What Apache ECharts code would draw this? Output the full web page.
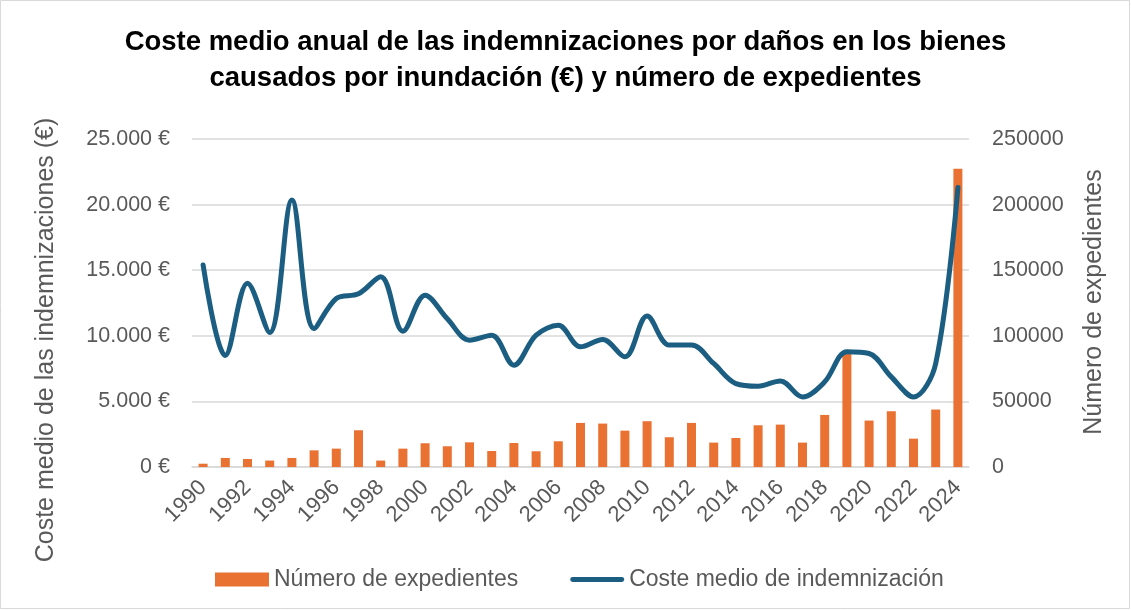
<!DOCTYPE html>
<html>
<head>
<meta charset="utf-8">
<script src="https://cdn.jsdelivr.net/npm/echarts@6/dist/echarts.min.js"></script>
<style>
  html, body { margin: 0; padding: 0; background: #fff; }
  #chart { width: 1131px; height: 610px; }
</style>
</head>
<body>
<div id="chart"></div>
<script>
// años
const years = ['1990','1991','1992','1993','1994','1995','1996','1997','1998','1999',
  '2000','2001','2002','2003','2004','2005','2006','2007','2008','2009',
  '2010','2011','2012','2013','2014','2015','2016','2017','2018','2019',
  '2020','2021','2022','2023','2024'];

// número de expedientes (eje derecho)
const expedientes = [2500, 6900, 6100, 4900, 6900, 12700, 14000, 28000, 4900, 14000,
  18100, 15800, 18800, 12200, 18300, 12000, 19600, 33600, 33100, 27700,
  34900, 22700, 33600, 18600, 22100, 31800, 32300, 18600, 39700, 87800,
  35400, 42500, 21600, 43800, 227300];

// coste medio de indemnización (eje izquierdo, €)
const coste = [15400, 8500, 14000, 10250, 20350, 10560, 12850, 13200, 14500, 10350,
  13100, 11300, 9670, 10050, 7760, 10050, 10800, 9160, 9720, 8400,
  11500, 9290, 9290, 7890, 6360, 6160, 6560, 5340, 6490, 8780,
  8650, 6870, 5340, 7890, 21300];

const leftTicks = [0, 5000, 10000, 15000, 20000, 25000];
const rightTicks = [0, 50000, 100000, 150000, 200000, 250000];

const font = '"Liberation Sans", Arial, sans-serif';
const gray = '#595959';
const blue = '#1b5e82';

const fmtEuro = (v) => String(v).replace(/\B(?=(\d{3})+(?!\d))/g, '.') + ' €';

// icono de línea gruesa para la leyenda (los M extremos fijan la caja)
const lineIcon = 'path://M0,0 M2.5,4.5 L53.5,4.5 A2.5,2.5 0 0 1 53.5,9.5 L2.5,9.5 A2.5,2.5 0 0 1 2.5,4.5 Z M56,14';

const chart = echarts.init(document.getElementById('chart'));

chart.setOption({
  backgroundColor: '#fff',
  animation: false,
  title: {
    text: 'Coste medio anual de las indemnizaciones por daños en los bienes\ncausados por inundación (€) y número de expedientes',
    left: 'center',
    top: 19,
    textStyle: {
      fontFamily: font,
      fontWeight: 'bold',
      fontSize: 27.5,
      lineHeight: 36,
      color: '#000'
    }
  },
  grid: { left: 192, right: 162, top: 139, bottom: 143, containLabel: false },
  legend: {
    top: 563,
    left: 210,
    itemGap: 52,
    itemWidth: 54,
    itemHeight: 14,
    textStyle: { fontFamily: font, fontSize: 23, color: gray },
    data: [
      { name: 'Número de expedientes', icon: 'rect' },
      { name: 'Coste medio de indemnización', icon: lineIcon, itemStyle: { color: blue } }
    ]
  },
  xAxis: {
    type: 'category',
    data: years,
    boundaryGap: true,
    axisLine: { lineStyle: { color: '#d9d9d9', width: 1.5 } },
    axisTick: { show: false },
    axisLabel: {
      interval: 1,
      rotate: 45,
      fontFamily: font,
      fontSize: 22,
      color: gray,
      margin: 17
    }
  },
  yAxis: [
    {
      type: 'value',
      min: leftTicks[0],
      max: leftTicks[leftTicks.length - 1],
      interval: 5000,
      axisLine: { show: false },
      axisTick: { show: false },
      splitLine: { lineStyle: { color: '#d9d9d9', width: 1.5 } },
      axisLabel: {
        formatter: fmtEuro,
        fontFamily: font,
        fontSize: 21.5,
        color: gray,
        margin: 22
      }
    },
    {
      type: 'value',
      min: rightTicks[0],
      max: rightTicks[rightTicks.length - 1],
      interval: 50000,
      axisLine: { show: false },
      axisTick: { show: false },
      splitLine: { show: false },
      axisLabel: {
        formatter: (v) => String(v),
        fontFamily: font,
        fontSize: 21.5,
        color: gray,
        margin: 23
      }
    }
  ],
  series: [
    {
      name: 'Número de expedientes',
      type: 'bar',
      yAxisIndex: 1,
      data: expedientes,
      barWidth: 9,
      itemStyle: { color: '#e97132' }
    },
    {
      name: 'Coste medio de indemnización',
      type: 'line',
      yAxisIndex: 0,
      data: coste,
      smooth: 0.35,
      symbol: 'none',
      lineStyle: { color: blue, width: 5, cap: 'round' },
      itemStyle: { color: blue }
    }
  ],
  graphic: [
    {
      type: 'rect',
      shape: { x: 0.5, y: 0.5, width: 1129, height: 608 },
      style: { fill: 'none', stroke: '#d9d9d9', lineWidth: 1 },
      silent: true
    },
    {
      type: 'text',
      x: 46,
      y: 340,
      rotation: Math.PI / 2,
      style: {
        text: 'Coste medio de las indemnizaciones (€)',
        font: '25px ' + font,
        fill: gray,
        align: 'center',
        verticalAlign: 'middle'
      }
    },
    {
      type: 'text',
      x: 1094,
      y: 302,
      rotation: Math.PI / 2,
      style: {
        text: 'Número de expedientes',
        font: '25px ' + font,
        fill: gray,
        align: 'center',
        verticalAlign: 'middle'
      }
    }
  ]
});
</script>
</body>
</html>
